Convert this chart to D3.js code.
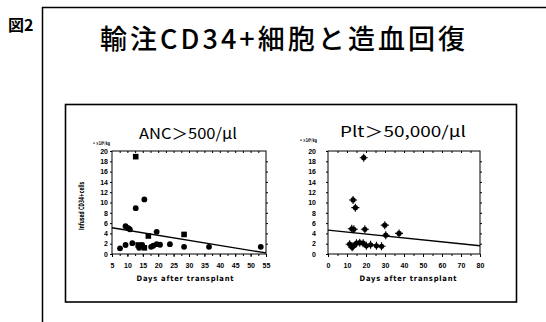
<!DOCTYPE html>
<html>
<head>
<meta charset="utf-8">
<script src="https://cdn.jsdelivr.net/npm/d3@7"></script>
<style>
  html, body { margin: 0; padding: 0; background: #fff; }
  svg { display: block; }
  text { fill: #000; }
</style>
</head>
<body>
<div id="chart"></div>
<script>
// Data
const yTicks = [0, 2, 4, 6, 8, 10, 12, 14, 16, 18, 20];
const ancXTicks = [5, 10, 15, 20, 25, 30, 35, 40, 45, 50, 55];
const pltXTicks = [0, 10, 20, 30, 40, 50, 60, 70, 80];

// ANC > 500/ul : day of recovery vs infused CD34+ cells (x10^6/kg)
const ancDays  = [12.7, 15.5, 12.7, 9.4, 10.3, 10.8, 19.5, 16.8, 28.4, 7.6, 9.4, 11.6, 13.5, 13.8, 14.8, 15.5, 17.7, 18.4, 19.5, 20.6, 23.8, 28.4, 36.5, 53.3];
const ancCD34  = [18.9, 10.6, 8.9, 5.4, 5.0, 4.8, 4.3, 3.5, 3.8, 1.1, 1.75, 2.1, 1.75, 1.2, 1.75, 1.2, 1.4, 1.6, 1.9, 1.8, 1.9, 1.4, 1.4, 1.4];
const ancShape = ["sq", "c", "c", "c", "c", "c", "c", "sq", "sq", "c", "c", "c", "sq", "c", "c", "sq", "c", "c", "c", "c", "c", "c", "c", "c"];
const ancFit   = [[5, 5.1], [55, 0.2]];

// Plt > 50,000/ul
const pltDays  = [18.8, 13.2, 14.4, 29.9, 19.4, 12.5, 13.6, 30.4, 37.4, 11.4, 12.7, 13.2, 15.0, 16.7, 18.5, 20.2, 22.4, 25.5, 28.2];
const pltCD34  = [18.7, 10.5, 9.0, 5.6, 4.8, 4.9, 4.8, 3.65, 4.0, 1.9, 1.3, 1.5, 2.1, 2.2, 2.1, 1.6, 1.8, 1.6, 1.5];
const pltFit   = [[0, 4.65], [80, 1.6]];

const W = 546, H = 322;
const svg = d3.select("#chart").append("svg")
  .attr("width", W).attr("height", H)
  .style("font-family", "'Liberation Sans Narrow', 'DejaVu Sans Condensed', sans-serif");

// Outer slide frame (top + left only)
svg.append("line").attr("x1", 42).attr("x2", W).attr("y1", 7.5).attr("y2", 7.5)
  .attr("stroke", "#000").attr("stroke-width", 1.5);
svg.append("line").attr("x1", 42.5).attr("x2", 42.5).attr("y1", 7).attr("y2", H)
  .attr("stroke", "#000").attr("stroke-width", 1.5);

svg.append("text")
  .attr("x", 8).attr("y", 31)
  .attr("font-family", "'Noto Sans CJK JP', sans-serif")
  .attr("font-weight", "bold")
  .attr("font-size", "16px")
  .text("図2");

svg.append("text")
  .attr("x", 100).attr("y", 49)
  .attr("font-family", "'Noto Sans CJK JP', sans-serif")
  .attr("font-weight", 500)
  .attr("font-size", "27px")
  .attr("textLength", 365)
  .attr("lengthAdjust", "spacing")
  .text("輸注CD34+細胞と造血回復");

// Inner figure box
svg.append("rect")
  .attr("x", 65.5).attr("y", 104.5).attr("width", 451).attr("height", 197.5)
  .attr("fill", "none").attr("stroke", "#000").attr("stroke-width", 1.6);

function panel(opt) {
  const x = d3.scaleLinear().domain(opt.xDomain).range([opt.left, opt.right]);
  const y = d3.scaleLinear().domain([0, 20]).range([254, 151]);
  const g = svg.append("g");

  // plot frame
  g.append("rect")
    .attr("x", opt.left).attr("y", 151)
    .attr("width", opt.right - opt.left).attr("height", 103)
    .attr("fill", "none").attr("stroke", "#000").attr("stroke-width", 1);

  // left axis
  const ya = g.append("g")
    .attr("transform", `translate(${opt.left},0)`)
    .call(d3.axisLeft(y).tickValues(yTicks).tickSize(2).tickPadding(opt.yPad));
  ya.select(".domain").remove();
  ya.selectAll("text").attr("font-size", "7px").attr("font-weight", "bold");

  // right axis ticks
  g.append("g")
    .attr("transform", `translate(${opt.right},0)`)
    .call(d3.axisRight(y).tickValues(yTicks.slice(1, -1)).tickSize(2).tickFormat(""))
    .select(".domain").remove();

  // top ticks
  g.append("g")
    .attr("transform", "translate(0,151)")
    .call(d3.axisBottom(x).tickValues(opt.minor).tickSize(2).tickFormat(""))
    .select(".domain").remove();

  // bottom axis
  const xa = g.append("g")
    .attr("transform", "translate(0,254)")
    .call(d3.axisBottom(x).tickValues(opt.xTicks).tickSize(3).tickPadding(6));
  xa.select(".domain").remove();
  xa.selectAll("text").attr("font-size", "7px").attr("font-weight", "bold");
  g.append("g")
    .attr("transform", "translate(0,254)")
    .call(d3.axisBottom(x).tickValues(opt.minor).tickSize(2).tickFormat(""))
    .select(".domain").remove();

  g.selectAll(".tick line").attr("stroke", "#000");

  // regression line
  g.append("path")
    .datum(opt.fit)
    .attr("d", d3.line().x(d => x(d[0])).y(d => y(d[1])))
    .attr("fill", "none").attr("stroke", "#000").attr("stroke-width", 1.3);

  // points
  const pts = opt.days.map((d, i) => ({ d, v: opt.vals[i], s: opt.shape ? opt.shape[i] : opt.defShape }));
  pts.forEach(p => {
    const px = x(p.d), py = y(p.v);
    if (p.s === "sq") {
      g.append("rect").attr("x", px - 2.8).attr("y", py - 2.8)
        .attr("width", 5.6).attr("height", 5.6).attr("fill", "#000");
    } else if (p.s === "star") {
      g.append("circle").attr("cx", px).attr("cy", py).attr("r", 2.6).attr("fill", "#000");
      g.append("path")
        .attr("d", `M${px - 4},${py}H${px + 4}M${px},${py - 4}V${py + 4}`)
        .attr("stroke", "#000").attr("stroke-width", 1.1);
    } else {
      g.append("circle").attr("cx", px).attr("cy", py).attr("r", 2.9).attr("fill", "#000");
    }
  });

  // titles
  g.append("text")
    .attr("x", opt.titleX).attr("y", opt.titleY)
    .attr("font-family", "'Liberation Sans Narrow', 'Noto Sans CJK JP', sans-serif")
    .attr("font-size", "15px")
    .attr("fill", opt.titleColor)
    .attr("textLength", opt.titleLen)
    .attr("lengthAdjust", "spacingAndGlyphs")
    .text(opt.title);

  g.append("text")
    .attr("x", opt.unitX).attr("y", opt.unitY)
    .attr("font-size", "5px").attr("font-weight", "bold")
    .attr("textLength", 17).attr("lengthAdjust", "spacingAndGlyphs")
    .text("• ×10⁶/kg");

  g.append("text")
    .attr("x", (opt.left + opt.right) / 2 + opt.xtOff).attr("y", 281)
    .attr("text-anchor", "middle")
    .attr("font-size", "7.5px").attr("font-weight", "bold")
    .attr("textLength", 97).attr("lengthAdjust", "spacing")
    .text("Days after transplant");
}

panel({
  xDomain: [5, 55], left: 112, right: 266, xTicks: ancXTicks,
  minor: d3.range(7.5, 55, 2.5), yPad: 2,
  days: ancDays, vals: ancCD34, shape: ancShape, fit: ancFit,
  title: "ANC＞500/μl", titleX: 139, titleY: 139, titleLen: 98, titleColor: "#000",
  unitX: 93, unitY: 145, xtOff: -4
});

panel({
  xDomain: [0, 80], left: 328, right: 480, xTicks: pltXTicks,
  minor: d3.range(5, 80, 5), yPad: 10,
  days: pltDays, vals: pltCD34, defShape: "star", fit: pltFit,
  title: "Plt＞50,000/μl", titleX: 340, titleY: 137, titleLen: 126, titleColor: "#444",
  unitX: 300, unitY: 142, xtOff: 4
});

// y-axis title (left panel only)
svg.append("text")
  .attr("transform", "translate(84,206) rotate(-90)")
  .attr("text-anchor", "middle")
  .attr("font-size", "7.5px").attr("font-weight", "bold")
  .attr("textLength", 48).attr("lengthAdjust", "spacingAndGlyphs")
  .text("Infused CD34+cells");
</script>
</body>
</html>
